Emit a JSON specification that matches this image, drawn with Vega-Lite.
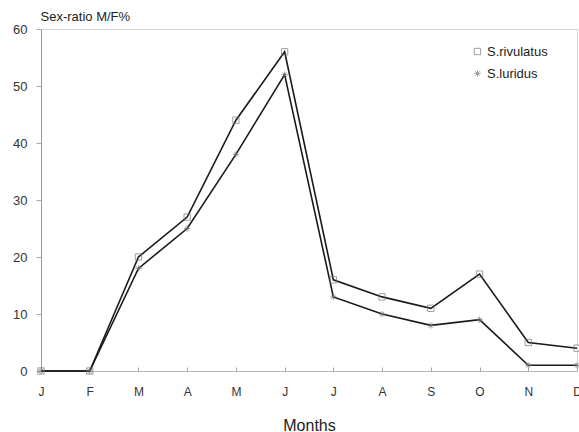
{
  "$schema": "https://vega.github.io/schema/vega-lite/v6.json",
  "width": 536,
  "height": 342,
  "autosize": {"type": "none"},
  "padding": {"left": 41, "top": 29, "right": 2, "bottom": 61},
  "background": "white",
  "config": {
    "font": "Liberation Sans",
    "view": {"stroke": "#aaa", "strokeWidth": 1, "strokeDash": [1, 1]}
  },
  "data": {
    "values": [
      {"m": 1, "series": "S.rivulatus", "v": 0},
      {"m": 2, "series": "S.rivulatus", "v": 0},
      {"m": 3, "series": "S.rivulatus", "v": 20},
      {"m": 4, "series": "S.rivulatus", "v": 27},
      {"m": 5, "series": "S.rivulatus", "v": 44},
      {"m": 6, "series": "S.rivulatus", "v": 56},
      {"m": 7, "series": "S.rivulatus", "v": 16},
      {"m": 8, "series": "S.rivulatus", "v": 13},
      {"m": 9, "series": "S.rivulatus", "v": 11},
      {"m": 10, "series": "S.rivulatus", "v": 17},
      {"m": 11, "series": "S.rivulatus", "v": 5},
      {"m": 12, "series": "S.rivulatus", "v": 4},
      {"m": 1, "series": "S.luridus", "v": 0},
      {"m": 2, "series": "S.luridus", "v": 0},
      {"m": 3, "series": "S.luridus", "v": 18},
      {"m": 4, "series": "S.luridus", "v": 25},
      {"m": 5, "series": "S.luridus", "v": 38},
      {"m": 6, "series": "S.luridus", "v": 52},
      {"m": 7, "series": "S.luridus", "v": 13},
      {"m": 8, "series": "S.luridus", "v": 10},
      {"m": 9, "series": "S.luridus", "v": 8},
      {"m": 10, "series": "S.luridus", "v": 9},
      {"m": 11, "series": "S.luridus", "v": 1},
      {"m": 12, "series": "S.luridus", "v": 1}
    ]
  },
  "encoding": {
    "x": {
      "field": "m",
      "type": "quantitative",
      "scale": {"domain": [1, 12], "nice": false, "zero": false},
      "axis": {
        "title": "Months",
        "titleFontSize": 16,
        "titleFontWeight": "normal",
        "titleColor": "#222",
        "titlePadding": 20,
        "values": [1, 2, 3, 4, 5, 6, 7, 8, 9, 10, 11, 12],
        "labelExpr": "['J','F','M','A','M','J','J','A','S','O','N','D'][datum.value - 1]",
        "labelFontSize": 12,
        "labelColor": "#333",
        "labelPadding": 19,
        "labelFlush": false,
        "labelOverlap": false,
        "grid": false,
        "domainColor": "#999",
        "domainDash": [1, 1],
        "tickColor": "#aaa",
        "tickSize": -4
      }
    },
    "y": {
      "field": "v",
      "type": "quantitative",
      "scale": {"domain": [0, 60], "nice": false},
      "axis": {
        "title": "Sex-ratio M/F%",
        "titleAngle": 0,
        "titleAlign": "left",
        "titleBaseline": "alphabetic",
        "titleX": -1,
        "titleY": -9,
        "titleFontSize": 13,
        "titleFontWeight": "normal",
        "titleColor": "#222",
        "values": [0, 10, 20, 30, 40, 50, 60],
        "labelFontSize": 13,
        "labelColor": "#333",
        "labelPadding": 9,
        "grid": false,
        "domainColor": "#999",
        "tickColor": "#aaa",
        "tickSize": 5
      }
    }
  },
  "layer": [
    {
      "mark": {"type": "line", "color": "#1a1a1a", "strokeWidth": 1.6},
      "encoding": {"detail": {"field": "series"}}
    },
    {
      "mark": {"type": "point", "filled": false, "strokeWidth": 1},
      "encoding": {
        "shape": {
          "field": "series",
          "type": "nominal",
          "scale": {
            "domain": ["S.rivulatus", "S.luridus"],
            "range": ["square", "M-1,0L1,0M0,-1L0,1M-0.7,-0.7L0.7,0.7M-0.7,0.7L0.7,-0.7"]
          },
          "legend": {
            "title": null,
            "orient": "none",
            "legendX": 430,
            "legendY": 16,
            "labelFontSize": 13,
            "labelColor": "#222",
            "symbolStrokeColor": "#777",
            "symbolFillColor": "transparent",
            "symbolStrokeWidth": 1,
            "symbolSize": 40,
            "rowPadding": 8,
            "labelOffset": 3
          }
        },
        "color": {"value": "#777"},
        "size": {"value": 40}
      }
    }
  ]
}
